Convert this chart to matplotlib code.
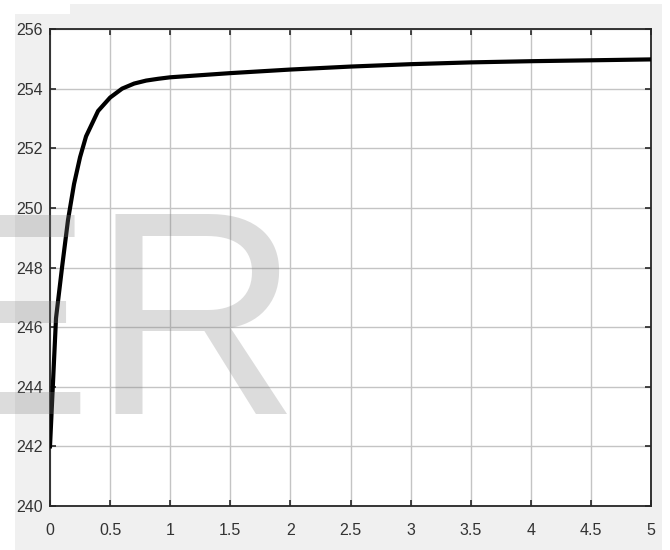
import matplotlib
matplotlib.use("Agg")
import matplotlib.pyplot as plt
from matplotlib.patches import Rectangle

# data
t = [0.0, 0.05, 0.1, 0.15, 0.2, 0.25, 0.3, 0.4, 0.5, 0.6, 0.7, 0.8, 0.9, 1.0,
     1.5, 2.0, 2.5, 3.0, 3.5, 4.0, 4.5, 5.0]
v = [242.0, 246.3, 248.0, 249.6, 250.8, 251.7, 252.4, 253.25, 253.7, 254.0,
     254.17, 254.27, 254.33, 254.38, 254.52, 254.64, 254.74, 254.82, 254.88,
     254.92, 254.95, 254.98]
xticks = [0, 0.5, 1, 1.5, 2, 2.5, 3, 3.5, 4, 4.5, 5]
xlabels = ["0", "0.5", "1", "1.5", "2", "2.5", "3", "3.5", "4", "4.5", "5"]
yticks = [240, 242, 244, 246, 248, 250, 252, 254, 256]
ylabels = [str(y) for y in yticks]

tick_font = "Liberation Sans"
tick_size = 11.5

W, H = 670, 550
fig = plt.figure(figsize=(W / 100, H / 100), dpi=100, facecolor="white")

# grey window background (screenshot frame)
bg = "#f0f0f0"
fig.patches.append(Rectangle((15 / W, 0), (662 - 15) / W, (550 - 14) / H,
                             transform=fig.transFigure, facecolor=bg, edgecolor="none", zorder=-5))
fig.patches.append(Rectangle((70 / W, 1 - 14 / H), (662 - 70) / W, 10 / H,
                             transform=fig.transFigure, facecolor=bg, edgecolor="none", zorder=-5))

ax = fig.add_axes([50 / W, 1 - 506 / H, (651 - 50) / W, (506 - 29) / H])
ax.set_zorder(1)
ax.set_facecolor("white")
ax.plot(t, v, color="black", lw=3.0, solid_joinstyle="round", zorder=3)
ax.set_xlim(0, 5)
ax.set_ylim(240, 256)
ax.set_xticks(xticks)
ax.set_xticklabels(xlabels)
ax.set_yticks(yticks)
ax.set_yticklabels(ylabels)
ax.grid(True, color="#c4c4c4", lw=1.0)
ax.set_axisbelow(True)
for s in ax.spines.values():
    s.set_color("#262626")
    s.set_linewidth(1.3)
ax.tick_params(direction="in", length=4, width=1.2, color="#262626",
               top=True, right=True, labelsize=tick_size, labelcolor="#333333")
ax.tick_params(axis="x", pad=12)
ax.tick_params(axis="y", pad=5)
for lab in ax.get_xticklabels() + ax.get_yticklabels():
    lab.set_fontfamily(tick_font)

# watermark
fig.text(-101 / W, 1 - 414 / H, "ER", fontsize=208, family="Liberation Sans",
         color="gray", alpha=0.27, ha="left", va="baseline", zorder=10)

fig.savefig("out.png", dpi=100, facecolor="white")
